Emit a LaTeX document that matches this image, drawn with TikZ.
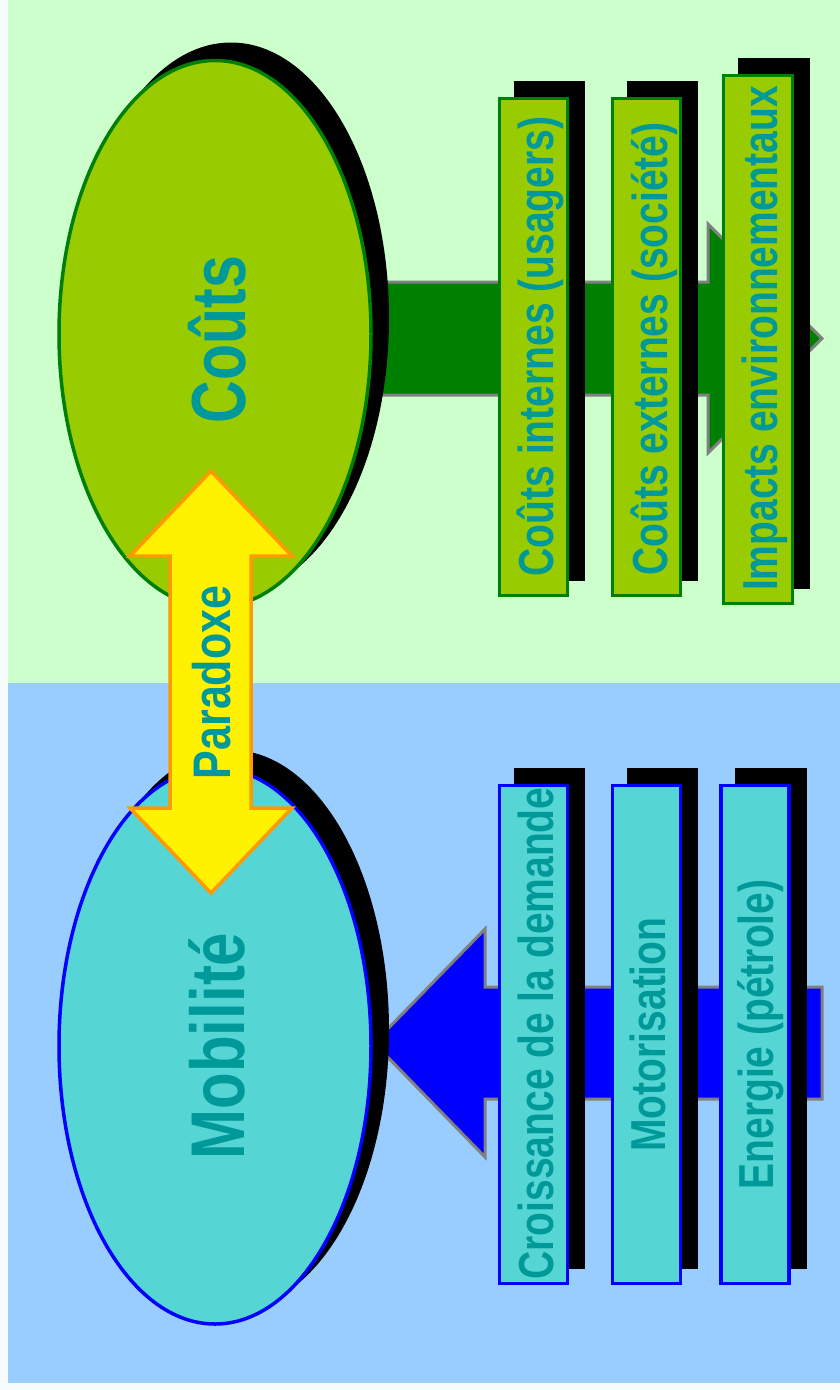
\documentclass[tikz,border=0pt]{standalone}
\usepackage{fontspec}
\usepackage{graphicx}
\setmainfont{Liberation Sans}
\usetikzlibrary{shapes.geometric}
\definecolor{bggreen}{HTML}{CCFFCC}
\definecolor{bgblue}{HTML}{99CCFF}
\definecolor{limefill}{HTML}{99CC00}
\definecolor{dgreen}{HTML}{008000}
\definecolor{turq}{HTML}{55D6D4}
\definecolor{tealtxt}{HTML}{009999}
\definecolor{arrgrey}{HTML}{808080}
\definecolor{orangeline}{HTML}{FF9900}
\definecolor{edgewhite}{HTML}{F6FCFC}
\newcommand{\stretchtxt}[2]{\scalebox{1}[#1]{#2}}
\tikzset{
  ovalshadow/.style={ellipse, fill=black, draw=none, inner sep=0pt},
  costoval/.style={ellipse, fill=limefill, draw=dgreen, line width=3.5pt, inner sep=0pt},
  mobioval/.style={ellipse, fill=turq, draw=blue, line width=3.5pt, inner sep=0pt},
  boxshadow/.style={rectangle, fill=black, draw=none, inner sep=0pt, minimum width=71.5pt},
  costbox/.style={rectangle, fill=limefill, draw=dgreen, line width=3.5pt, inner sep=0pt, minimum width=68pt},
  mobibox/.style={rectangle, fill=turq, draw=blue, line width=3.5pt, inner sep=0pt, minimum width=68pt},
  lbl/.style={rotate=90, anchor=base, inner sep=0pt, text=tealtxt},
  bigarrow/.style={draw=arrgrey, line width=3pt, line join=miter},
}
\begin{document}
\begin{tikzpicture}[x=1pt, y=-1pt]
\useasboundingbox (0,0) rectangle (840,1390);
% backgrounds
\fill[edgewhite] (0,0) rectangle (840,1390);
\fill[bggreen] (8,0) rectangle (840,683);
\fill[bgblue] (8,683) rectangle (840,1383);

% block arrows (behind everything)
\draw[bigarrow, fill=dgreen] (370,282) -- (708,282) -- (708,224) -- (822,338.5) -- (708,453) -- (708,395) -- (370,395) -- cycle;
\draw[bigarrow, fill=blue] (374,1043) -- (485,929) -- (485,987) -- (822,987) -- (822,1099) -- (485,1099) -- (485,1157) -- cycle;

% ellipses
\node[ovalshadow, minimum width=316pt, minimum height=551pt] (coutsshadow) at (231,318) {};
\node[costoval, minimum width=312pt, minimum height=547pt] (couts) at (215,334) {};
\node[ovalshadow, minimum width=316pt, minimum height=560pt] (mobishadow) at (231,1030) {};
\node[mobioval, minimum width=312pt, minimum height=556pt] (mobilite) at (215,1046) {};

% cost boxes
\node[boxshadow, minimum height=500.5pt] (s1) at (549.5,331) {};
\node[boxshadow, minimum height=500.5pt] (s2) at (662.5,331) {};
\node[boxshadow, minimum height=531.5pt] (s3) at (774,323.5) {};
\node[costbox, minimum height=497pt] (b1) at (533.5,347) {};
\node[costbox, minimum height=497pt] (b2) at (646.5,347) {};
\node[costbox, minimum height=528pt, minimum width=69pt] (b3) at (758,339.5) {};

% mobility boxes
\node[boxshadow, minimum height=501.5pt] (s4) at (549.5,1018.5) {};
\node[boxshadow, minimum height=501.5pt] (s5) at (662.5,1018.5) {};
\node[boxshadow, minimum height=501.5pt] (s6) at (771,1018.5) {};
\node[mobibox, minimum height=498pt] (b4) at (533.5,1034.5) {};
\node[mobibox, minimum height=498pt] (b5) at (646.5,1034.5) {};
\node[mobibox, minimum height=498pt] (b6) at (755,1034.5) {};

% yellow double arrow
\draw[fill=yellow, draw=orangeline, line width=3.5pt, line join=miter]
  (211,471) -- (292,556) -- (251,556) -- (251,808) -- (292,808) -- (211,893)
  -- (130,808) -- (170,808) -- (170,556) -- (130,556) -- cycle;

% labels
\node[lbl, font=\bfseries\fontsize{59}{59}\selectfont] (tcouts) at (245,339.5) {\stretchtxt{1.3}{Coûts}};
\node[lbl, font=\bfseries\fontsize{60}{60}\selectfont] (tmobi) at (244,1046) {\stretchtxt{1.27}{Mobilité}};
\node[lbl, font=\bfseries\fontsize{43}{43}\selectfont] (tpara) at (230,682.5) {\stretchtxt{1.23}{Paradoxe}};

\node[lbl, font=\bfseries\fontsize{39}{39}\selectfont] (t1) at (553,346.5) {\stretchtxt{1.26}{Coûts internes (usagers)}};
\node[lbl, font=\bfseries\fontsize{39}{39}\selectfont] (t2) at (667,349) {\stretchtxt{1.26}{Coûts externes (société)}};
\node[lbl, font=\bfseries\fontsize{39}{39}\selectfont] (t3) at (777,338.5) {\stretchtxt{1.26}{Impacts environnementaux}};
\node[lbl, font=\bfseries\fontsize{39}{39}\selectfont] (t4) at (553,1033.5) {\stretchtxt{1.26}{Croissance de la demande}};
\node[lbl, font=\bfseries\fontsize{39}{39}\selectfont] (t5) at (665,1034.5) {\stretchtxt{1.26}{Motorisation}};
\node[lbl, font=\bfseries\fontsize{39}{39}\selectfont] (t6) at (773,1034.5) {\stretchtxt{1.26}{Energie (pétrole)}};
\end{tikzpicture}
\end{document}
